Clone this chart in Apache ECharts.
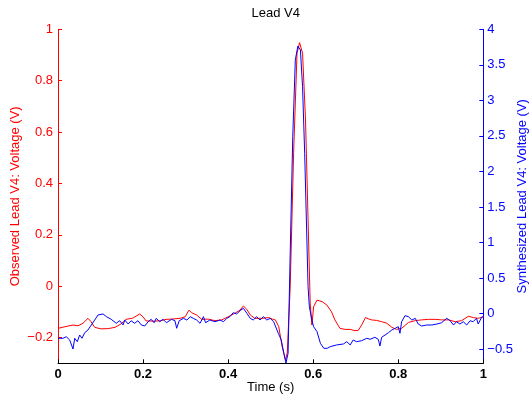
<!DOCTYPE html>
<html>
<head>
<meta charset="utf-8">
<script src="https://cdn.jsdelivr.net/npm/echarts@6/dist/echarts.min.js"></script>
<style>
html,body{margin:0;padding:0;background:#fff;}
#chart{width:530px;height:400px;}
</style>
</head>
<body>
<div id="chart"></div>
<script>
var chartTitle = "Lead V4";
var xName = "Time (s)";
var leftName = "Observed Lead V4: Voltage (V)";
var rightName = "Synthesized Lead V4: Voltage (V)";
var xTicks = [0, 0.2, 0.4, 0.6, 0.8, 1];
var leftTicks = [-0.2, 0, 0.2, 0.4, 0.6, 0.8, 1];
var rightTicks = [-0.5, 0, 0.5, 1, 1.5, 2, 2.5, 3, 3.5, 4];

var tObs = [0,0.0235,0.0353,0.047,0.0588,0.0705,0.0776,0.0863,0.101,0.118,0.134,0.148,0.160,0.176,0.192,0.200,0.207,0.227,0.242,0.254,0.267,0.287,0.299,0.308,0.314,0.326,0.338,0.353,0.369,0.385,0.400,0.416,0.428,0.436,0.444,0.452,0.463,0.479,0.495,0.506,0.511,0.519,0.527,0.535,0.539,0.546,0.554,0.562,0.568,0.575,0.582,0.588,0.593,0.597,0.601,0.609,0.621,0.632,0.643,0.651,0.663,0.675,0.687,0.698,0.706,0.714,0.723,0.730,0.737,0.749,0.761,0.773,0.785,0.796,0.808,0.824,0.840,0.855,0.871,0.887,0.902,0.918,0.934,0.949,0.965,0.977,0.988,1.0];
var vObs = [-0.164,-0.155,-0.151,-0.154,-0.144,-0.125,-0.138,-0.160,-0.166,-0.165,-0.160,-0.147,-0.129,-0.124,-0.108,-0.119,-0.135,-0.136,-0.134,-0.129,-0.128,-0.125,-0.119,-0.093,-0.103,-0.112,-0.129,-0.128,-0.134,-0.131,-0.119,-0.105,-0.093,-0.077,-0.090,-0.112,-0.125,-0.125,-0.122,-0.129,-0.131,-0.157,-0.235,-0.287,-0.260,-0.002,0.519,0.907,0.948,0.907,0.647,0.258,-0.066,-0.151,-0.080,-0.054,-0.060,-0.073,-0.099,-0.131,-0.164,-0.168,-0.168,-0.173,-0.172,-0.151,-0.122,-0.127,-0.131,-0.133,-0.138,-0.144,-0.160,-0.168,-0.164,-0.141,-0.134,-0.131,-0.129,-0.129,-0.131,-0.131,-0.138,-0.134,-0.117,-0.122,-0.125,-0.119];

var tSyn = [0,0.0118,0.0195,0.0275,0.0353,0.0393,0.0454,0.051,0.0564,0.0628,0.0705,0.0783,0.0863,0.0941,0.106,0.114,0.125,0.137,0.145,0.153,0.157,0.165,0.172,0.180,0.188,0.196,0.204,0.212,0.219,0.226,0.231,0.239,0.247,0.255,0.259,0.267,0.275,0.279,0.285,0.295,0.303,0.311,0.318,0.326,0.334,0.342,0.347,0.357,0.369,0.381,0.389,0.397,0.404,0.412,0.420,0.430,0.436,0.444,0.452,0.459,0.467,0.475,0.483,0.491,0.499,0.507,0.511,0.518,0.520,0.525,0.531,0.536,0.541,0.546,0.552,0.558,0.564,0.570,0.575,0.580,0.584,0.588,0.591,0.597,0.601,0.609,0.617,0.625,0.633,0.640,0.655,0.671,0.679,0.687,0.694,0.702,0.714,0.726,0.734,0.745,0.753,0.757,0.761,0.769,0.777,0.785,0.793,0.800,0.804,0.808,0.816,0.824,0.832,0.840,0.847,0.855,0.867,0.879,0.891,0.902,0.914,0.922,0.930,0.937,0.945,0.953,0.961,0.969,0.976,0.984,0.988,0.996,1.0];
var vSyn = [-0.348,-0.348,-0.326,-0.372,-0.499,-0.348,-0.396,-0.302,-0.348,-0.269,-0.231,-0.161,-0.091,-0.020,-0.006,-0.044,-0.081,-0.137,-0.101,-0.161,-0.091,-0.147,-0.101,-0.137,-0.101,-0.161,-0.175,-0.115,-0.081,-0.129,-0.067,-0.115,-0.081,-0.129,-0.147,-0.081,-0.101,-0.207,-0.101,-0.067,-0.091,-0.044,-0.067,-0.091,-0.137,-0.044,-0.129,-0.091,-0.115,-0.091,-0.115,-0.067,-0.044,0.012,-0.006,0.050,0.074,0.004,-0.067,-0.091,-0.044,-0.091,-0.044,-0.091,-0.067,-0.115,-0.137,-0.278,-0.255,-0.372,-0.559,-0.696,-0.559,0.852,2.489,3.568,3.765,3.709,3.192,2.255,1.316,0.378,0.096,-0.091,-0.185,-0.255,-0.419,-0.489,-0.489,-0.466,-0.442,-0.428,-0.396,-0.442,-0.372,-0.396,-0.382,-0.348,-0.362,-0.334,-0.362,-0.457,-0.334,-0.302,-0.269,-0.231,-0.207,-0.185,-0.278,-0.115,-0.030,-0.044,-0.091,-0.067,-0.147,-0.175,-0.161,-0.161,-0.147,-0.129,-0.067,-0.101,-0.161,-0.115,-0.147,-0.115,-0.161,-0.101,-0.115,-0.067,-0.147,-0.053,-0.044];

function zip(a, b) { return a.map(function (v, i) { return [v, b[i]]; }); }
function fmt(v) {
  var s = String(Math.round(v * 1000) / 1000);
  return s.replace('-', '\u2212');
}
var FONT = 'Liberation Sans';
var RED = '#ff0000', BLUE = '#0000ff';

var chart = echarts.init(document.getElementById('chart'), null, {renderer: 'canvas'});
chart.setOption({
  animation: false,
  backgroundColor: '#ffffff',
  textStyle: {fontFamily: FONT},
  title: {
    text: chartTitle, left: 270.7, top: 2, textAlign: 'center',
    textStyle: {fontFamily: FONT, fontSize: 13, fontWeight: 'normal', color: '#000'}
  },
  grid: {left: 58, right: 46.7, top: 29.3, bottom: 36.7, containLabel: false, outerBoundsMode: 'none'},
  xAxis: {
    type: 'value', min: 0, max: 1, interval: 0.2,
    name: xName, nameLocation: 'middle', nameGap: 18, nameMoveOverlap: false,
    nameTextStyle: {fontFamily: FONT, fontSize: 13, color: '#000'},
    axisLine: {show: true, onZero: false, lineStyle: {color: '#000', width: 1}},
    axisTick: {show: true, inside: true, length: 4, lineStyle: {color: '#000'}},
    axisLabel: {color: '#000', fontSize: 13, fontWeight: 'bold', fontFamily: FONT, margin: 5, formatter: fmt},
    splitLine: {show: false}
  },
  yAxis: [{
    type: 'value', min: -0.3, max: 1, position: 'left',
    name: leftName, nameLocation: 'middle', nameGap: 36, nameRotate: 90, nameMoveOverlap: false,
    nameTextStyle: {fontFamily: FONT, fontSize: 13, color: RED},
    axisLine: {show: true, onZero: false, lineStyle: {color: RED, width: 1}},
    axisTick: {show: true, inside: true, length: 4, customValues: leftTicks, lineStyle: {color: RED}},
    axisLabel: {color: RED, fontSize: 13, fontFamily: FONT, margin: 5, customValues: leftTicks, formatter: fmt},
    splitLine: {show: false}
  }, {
    type: 'value', min: -0.7, max: 4, position: 'right',
    name: rightName, nameLocation: 'middle', nameGap: 33, nameRotate: 90, nameMoveOverlap: false,
    nameTextStyle: {fontFamily: FONT, fontSize: 13, color: BLUE},
    axisLine: {show: true, onZero: false, lineStyle: {color: BLUE, width: 1}},
    axisTick: {show: true, inside: true, length: 4, customValues: rightTicks, lineStyle: {color: BLUE}},
    axisLabel: {color: BLUE, fontSize: 13, fontFamily: FONT, margin: 4, customValues: rightTicks, formatter: fmt},
    splitLine: {show: false}
  }],
  series: [{
    type: 'line', name: 'Observed', yAxisIndex: 0, data: zip(tObs, vObs),
    showSymbol: false, symbol: 'none', lineStyle: {color: RED, width: 1}, itemStyle: {color: RED}
  }, {
    type: 'line', name: 'Synthesized', yAxisIndex: 1, data: zip(tSyn, vSyn),
    showSymbol: false, symbol: 'none', lineStyle: {color: BLUE, width: 1}, itemStyle: {color: BLUE}
  }]
});
</script>
</body>
</html>
